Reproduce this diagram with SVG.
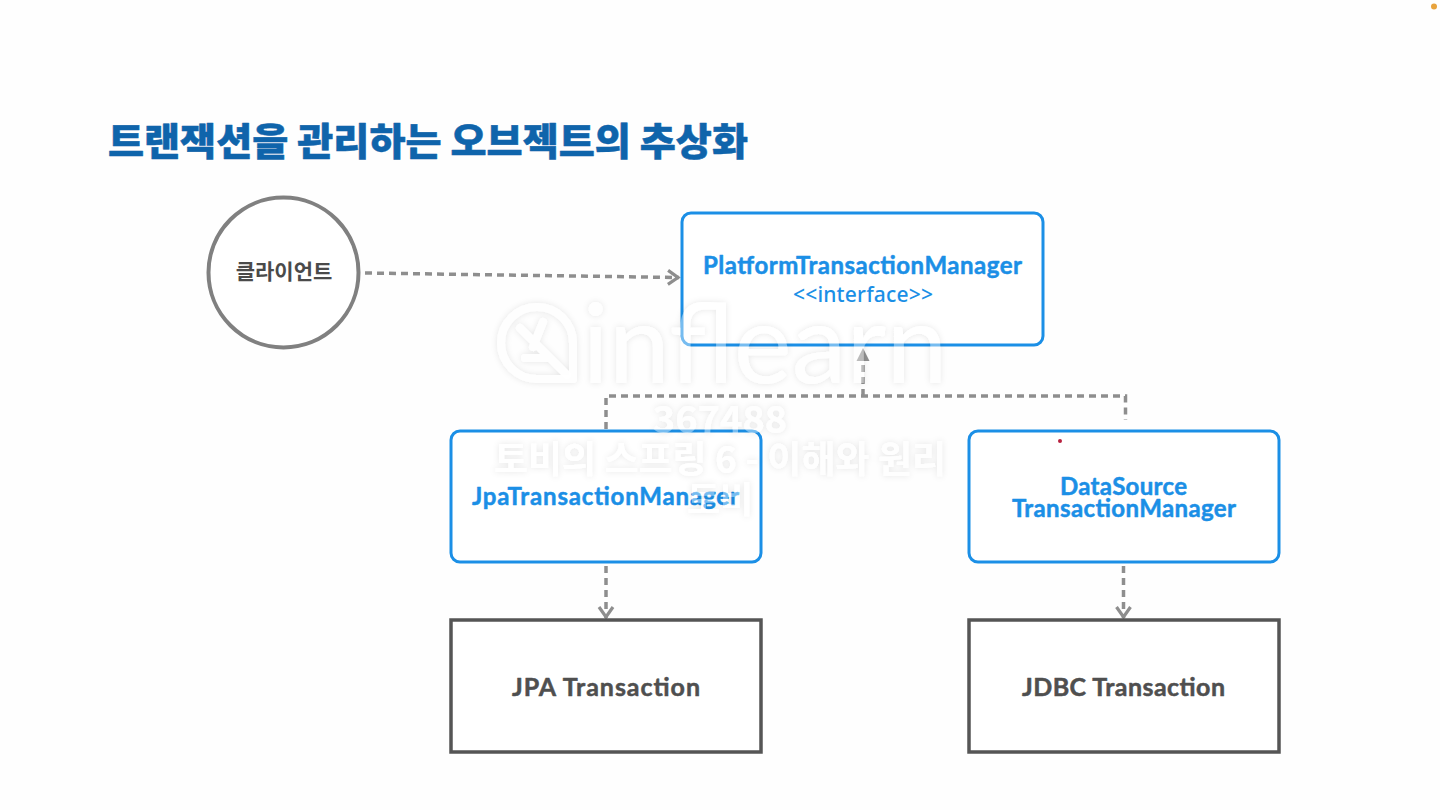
<svg xmlns="http://www.w3.org/2000/svg" width="1440" height="810" viewBox="0 0 1440 810">
<style>
.blue{fill:#fff;stroke:#1b8fe6;stroke-width:3}
.dark{fill:#fff;stroke:#555;stroke-width:3.500}
.bt{font-family:"Lato","Noto Sans","Noto Sans CJK KR",sans-serif;font-weight:700;fill:#1b8fe6;stroke:#1b8fe6;stroke-width:.5;stroke-linejoin:round;text-anchor:middle;font-size:24px}
.dt{font-family:"Lato","Noto Sans",sans-serif;font-weight:700;fill:#4f4f4f;stroke:#4f4f4f;stroke-width:.5;stroke-linejoin:round;text-anchor:middle;font-size:25px}
.con{fill:none;stroke:#8e8e8e;stroke-width:3.500;stroke-dasharray:7 5}
.wm{font-family:"Noto Sans CJK KR","Noto Sans",sans-serif;font-weight:700;fill:#fff;fill-opacity:.4;text-anchor:middle}
.lf{fill:none;stroke:#fff;stroke-opacity:.4;stroke-width:8;stroke-linecap:round;stroke-linejoin:round}
</style>
<defs>
<marker id="ah" markerUnits="userSpaceOnUse" markerWidth="16" markerHeight="16" refX="13" refY="7" orient="auto"><path d="M0 0.500L13 7L0 13.500Z" fill="#8e8e8e"/></marker>
<marker id="op" markerUnits="userSpaceOnUse" markerWidth="18" markerHeight="20" refX="13" refY="9" orient="auto"><path d="M2 2L12 9L2 16" fill="none" stroke="#8e8e8e" stroke-width="3.200"/></marker>
<filter id="glow" x="-10%" y="-10%" width="120%" height="120%">
<feColorMatrix in="SourceAlpha" type="matrix" values="0 0 0 0 0 0 0 0 0 0 0 0 0 0 0 0 0 0 2.500 0" result="solid"/>
<feGaussianBlur in="solid" stdDeviation="3" result="blur"/>
<feFlood flood-color="#000" flood-opacity=".1"/>
<feComposite in2="blur" operator="in" result="shadow"/>
<feComposite in="shadow" in2="solid" operator="out" result="ring"/>
<feMerge><feMergeNode in="ring"/><feMergeNode in="SourceGraphic"/></feMerge>
</filter>
</defs>
<rect width="1440" height="810" fill="#fefefe"/>
<circle cx="1434" cy="6.500" r="3" fill="#e8a33d"/>
<text id="title" x="108" y="155" font-family="'Noto Sans CJK KR',sans-serif" font-weight="900" font-size="38" fill="#0f64ab" stroke="#0f64ab" stroke-width=".5" stroke-linejoin="round" textLength="640" lengthAdjust="spacingAndGlyphs">트랜잭션을 관리하는 오브젝트의 추상화</text>
<g id="connectors">
<path class="con" d="M365 273L679 277.500" marker-end="url(#op)"/>
<path class="con" d="M863 396V348" marker-end="url(#ah)"/>
<path class="con" d="M606 429V396H1125.500V420"/>
<path class="con" d="M606 566V618" marker-end="url(#op)"/>
<path class="con" d="M1123.500 566V618" marker-end="url(#op)"/>
</g>
<g id="client"><circle cx="283.500" cy="272.500" r="75" fill="#fff" stroke="#808080" stroke-width="4"/><text x="284" y="279" text-anchor="middle" font-family="'Noto Sans CJK KR',sans-serif" font-weight="700" font-size="21" fill="#4a4a4a">클라이언트</text></g>
<g id="ptm"><rect class="blue" x="682" y="213" width="361" height="132" rx="9"/><text class="bt" x="862.500" y="273.500" textLength="319">PlatformTransactionManager</text><text x="863" y="302" text-anchor="middle" font-family="'Noto Sans',sans-serif" font-weight="500" font-size="21" fill="#1b8fe6" textLength="140">&lt;&lt;interface&gt;&gt;</text></g>
<g id="jpatm"><rect class="blue" x="451" y="431" width="310" height="131" rx="9"/><text class="bt" x="605.500" y="505" textLength="267">JpaTransactionManager</text></g>
<g id="dstm"><rect class="blue" x="969" y="431" width="310" height="131" rx="9"/><text class="bt" x="1123.500" y="495" textLength="127">DataSource</text><text class="bt" x="1124" y="516.500" textLength="224">TransactionManager</text></g>
<g id="jpa"><rect class="dark" x="451" y="620" width="310" height="132"/><text class="dt" x="606" y="696" textLength="188">JPA Transaction</text></g>
<g id="jdbc"><rect class="dark" x="969" y="620" width="310" height="132"/><text class="dt" x="1123.500" y="696" textLength="203">JDBC Transaction</text></g>
<circle cx="1060" cy="441" r="2" fill="#b8213f"/>
<g id="watermark" filter="url(#glow)">
<path class="lf" d="M571 379H537A36 36 0 1 1 573 343V379"/>
<path class="lf" d="M520 328L567 375M543 322L533 347M525 358H550"/>
<text class="wm" x="765" y="383" font-size="110" style="font-family:Lato,sans-serif;font-weight:400" textLength="365" lengthAdjust="spacingAndGlyphs">inflearn</text>
<text class="wm" x="720" y="433" font-size="38">367488</text>
<text class="wm" x="720" y="473" font-size="37">토비의 스프링 6 - 이해와 원리</text>
<text class="wm" x="720" y="513" font-size="36">토비</text>
</g>
</svg>
